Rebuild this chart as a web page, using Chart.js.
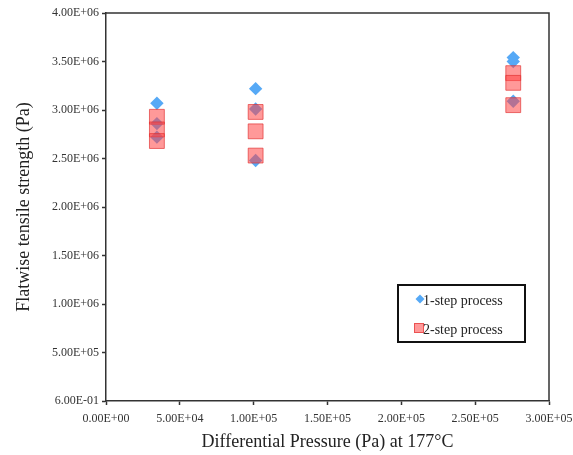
<!DOCTYPE html>
<html>
<head>
<meta charset="utf-8">
<script src="https://cdn.jsdelivr.net/npm/chart.js@4.4.0/dist/chart.umd.min.js"></script>
<style>
    html, body { margin: 0; padding: 0; background: #fff; }
</style>
</head>
<body>
<canvas id="chart" width="573" height="455"></canvas>
<script>
// pressure levels (Pa) and the three specimens measured at each level
var pressureLevels = [34474, 101325, 275790];
var oneStepStrength = [
    [3.07e6, 2.86e6, 2.72e6],
    [3.22e6, 3.01e6, 2.48e6],
    [3.54e6, 3.50e6, 3.09e6]
];
var twoStepStrength = [
    [2.93e6, 2.80e6, 2.68e6],
    [2.98e6, 2.78e6, 2.53e6],
    [3.38e6, 3.28e6, 3.05e6]
];
var seriesNames = ['1-step process', '2-step process'];

var xTickValues = [0, 50000, 100000, 150000, 200000, 250000, 300000];
var xTickLabels = ['0.00E+00', '5.00E+04', '1.00E+05', '1.50E+05', '2.00E+05', '2.50E+05', '3.00E+05'];
var yTickValues = [0.6, 500000, 1000000, 1500000, 2000000, 2500000, 3000000, 3500000, 4000000];
var yTickLabels = ['6.00E-01', '5.00E+05', '1.00E+06', '1.50E+06', '2.00E+06', '2.50E+06', '3.00E+06', '3.50E+06', '4.00E+06'];

const blue = '#56a9f6';
const redFill = 'rgba(255, 70, 70, 0.55)';
const redLine = 'rgba(225, 45, 45, 0.65)';
const serif = "'Liberation Serif', 'Times New Roman', serif";

function toPoints(levels, groups) {
    const pts = [];
    levels.forEach(function (x, i) {
        groups[i].forEach(function (y) {
            pts.push({ x: x, y: y });
        });
    });
    return pts;
}

// draws the top/right frame lines and the boxed legend inside the plot
const frameAndLegend = {
    id: 'frameAndLegend',
    afterDraw: function (chart) {
        const ctx = chart.ctx;
        const ca = chart.chartArea;
        ctx.save();
        ctx.strokeStyle = '#333';
        ctx.lineWidth = 1.5;
        ctx.beginPath();
        ctx.moveTo(ca.left, ca.top);
        ctx.lineTo(ca.right, ca.top);
        ctx.lineTo(ca.right, ca.bottom);
        ctx.stroke();

        // legend box
        const bx = ca.right - 151, by = ca.bottom - 116, bw = 127, bh = 57;
        ctx.strokeStyle = '#111';
        ctx.lineWidth = 2;
        ctx.strokeRect(bx, by, bw, bh);

        // diamond
        const dx = bx + 22, dy = by + 14, r = 4.5;
        ctx.fillStyle = blue;
        ctx.beginPath();
        ctx.moveTo(dx, dy - r);
        ctx.lineTo(dx + r, dy);
        ctx.lineTo(dx, dy + r);
        ctx.lineTo(dx - r, dy);
        ctx.closePath();
        ctx.fill();

        // square
        const sx = bx + 21, sy = by + 43, s = 5;
        ctx.fillStyle = redFill;
        ctx.strokeStyle = redLine;
        ctx.lineWidth = 1;
        ctx.fillRect(sx - s, sy - s, 2 * s, 2 * s);
        ctx.strokeRect(sx - s + 0.5, sy - s + 0.5, 2 * s - 1, 2 * s - 1);

        ctx.fillStyle = '#222';
        ctx.font = '14px ' + serif;
        ctx.textBaseline = 'middle';
        ctx.textAlign = 'left';
        ctx.fillText(seriesNames[0], bx + 25, dy + 2);
        ctx.fillText(seriesNames[1], bx + 25, sy + 2);
        ctx.restore();
    }
};

const ctx = document.getElementById('chart').getContext('2d');
const chart = new Chart(ctx, {
    type: 'scatter',
    data: {
        datasets: [{
            label: seriesNames[1],
            data: toPoints(pressureLevels, twoStepStrength),
            pointStyle: 'rect',
            pointRadius: 10.5,
            backgroundColor: redFill,
            borderColor: redLine,
            borderWidth: 1,
            order: 0
        }, {
            label: seriesNames[0],
            data: toPoints(pressureLevels, oneStepStrength),
            pointStyle: 'rectRot',
            pointRadius: 6.7,
            backgroundColor: blue,
            borderColor: blue,
            borderWidth: 0,
            order: 1
        }]
    },
    options: {
        responsive: false,
        animation: false,
        layout: { padding: { left: 13, top: 13, right: 24, bottom: 2 } },
        plugins: {
            legend: { display: false },
            tooltip: { enabled: false }
        },
        scales: {
            x: {
                type: 'linear',
                position: 'bottom',
                min: 0,
                max: 300000,
                afterBuildTicks: function (s) {
                    s.ticks = xTickValues.map(function (v) { return { value: v }; });
                },
                afterFit: function (s) {
                    s.height = 52;
                    s.paddingLeft = 0;
                    s.paddingRight = 0;
                },
                ticks: {
                    autoSkip: false,
                    maxRotation: 0,
                    padding: 7,
                    color: '#333',
                    font: { family: serif, size: 12 },
                    callback: function (v, i) { return xTickLabels[i]; }
                },
                grid: { drawOnChartArea: false, drawTicks: true, tickLength: 4, tickColor: '#333', tickWidth: 1.5 },
                border: { display: true, color: '#333', width: 1.5 },
                title: {
                    display: true,
                    text: 'Differential Pressure (Pa) at 177°C',
                    color: '#222',
                    font: { family: serif, size: 18 },
                    padding: 0
                }
            },
            y: {
                type: 'linear',
                min: 0.6,
                max: 4000000,
                afterBuildTicks: function (s) {
                    s.ticks = yTickValues.map(function (v) { return { value: v }; });
                },
                afterFit: function (s) {
                    s.width = 93;
                    s.paddingTop = 0;
                    s.paddingBottom = 0;
                },
                ticks: {
                    autoSkip: false,
                    padding: 3,
                    color: '#333',
                    font: { family: serif, size: 12 },
                    callback: function (v, i) { return yTickLabels[i]; }
                },
                grid: { drawOnChartArea: false, drawTicks: true, tickLength: 4, tickColor: '#333', tickWidth: 1.5 },
                border: { display: true, color: '#333', width: 1.5 },
                title: {
                    display: true,
                    text: 'Flatwise tensile strength (Pa)',
                    color: '#222',
                    font: { family: serif, size: 18 },
                    padding: 0
                }
            }
        }
    },
    plugins: [frameAndLegend]
});
</script>
</body>
</html>
